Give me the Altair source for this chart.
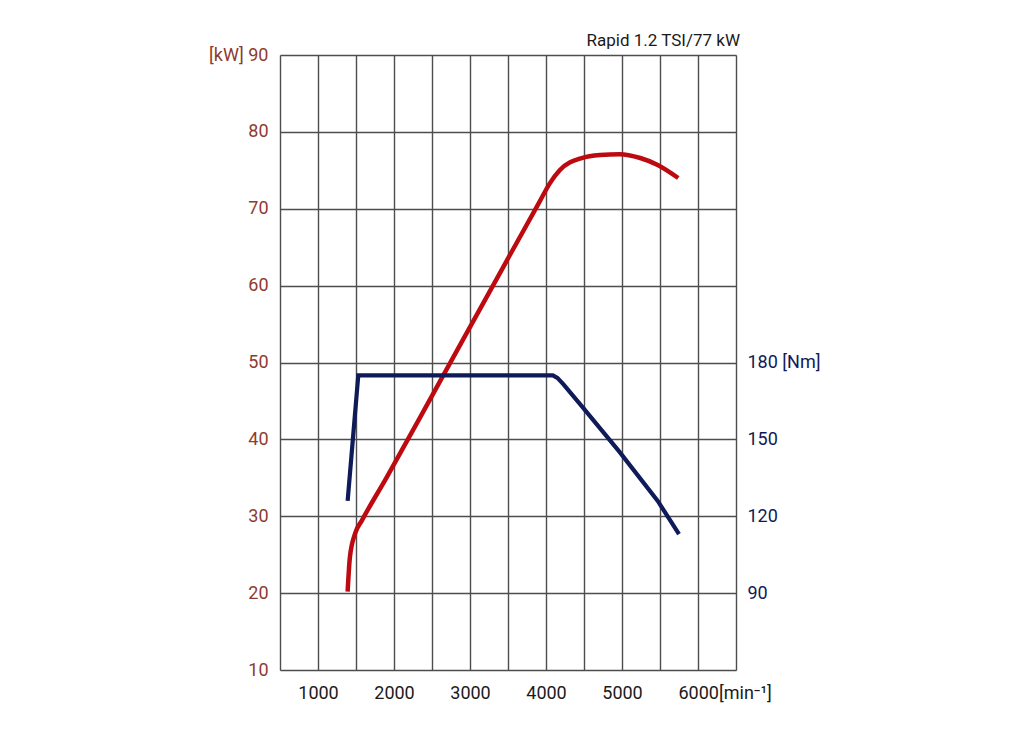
import altair as alt
import pandas as pd

# Power curve (rpm, kW)
power_rpm = [1390, 1420, 1490, 1580, 1900, 2340, 2870, 3470, 3920, 4050, 4180, 4470, 4710, 4970, 5240, 5470, 5740]
power_kw = [20.2, 24.7, 27.8, 29.5, 35.0, 42.8, 52.3, 63.0, 71.0, 73.3, 75.0, 76.6, 77.0, 77.1, 76.6, 75.7, 74.0]

# Torque curve (rpm, Nm)
torque_rpm = [1390, 1530, 4090, 4150, 4230, 4470, 4970, 5470, 5750]
torque_nm = [126, 175, 175, 174, 171.5, 163, 145, 126, 113]

x_grid = list(range(500, 7000, 500))
kw_ticks = list(range(10, 100, 10))
nm_ticks = [90, 120, 150, 180]

RED = "#bd0a10"
NAVY = "#0f1a58"
KW_LABEL = "#8e3b2f"
GRID = "#4d4d4d"
FONT = "Roboto"

power_df = pd.DataFrame({"rpm": power_rpm, "kw": power_kw})
torque_df = pd.DataFrame({"rpm": torque_rpm, "nm": torque_nm})

x_scale = alt.Scale(domain=[500, 6500], nice=False, zero=False)


def x_axis():
    return alt.Axis(
        values=x_grid,
        labelExpr="datum.value % 1000 == 0 ? (datum.value == 6000 ? '6000[min⁻¹]' : datum.label) : ''",
        labelAlign={"condition": {"test": "datum.value == 6000", "value": "left"}, "value": "center"},
        labelOffset={"condition": {"test": "datum.value == 6000", "value": -20}, "value": 0},
        format="d",
        grid=True,
        gridColor=GRID,
        gridWidth=1.4,
        gridOpacity=1,
        ticks=False,
        domain=False,
        labelPadding=14,
        labelFontSize=18,
        labelFont=FONT,
        labelColor="#1a1a1a",
        labelFlush=False,
        labelOverlap=False,
        title=None,
    )


power = alt.Chart(power_df).mark_line(
    color=RED, strokeWidth=4.5, interpolate="monotone", strokeCap="butt"
).encode(
    x=alt.X("rpm:Q", scale=x_scale, axis=x_axis()),
    y=alt.Y(
        "kw:Q",
        scale=alt.Scale(domain=[10, 90], nice=False, zero=False),
        axis=alt.Axis(
            values=kw_ticks,
            labelExpr="datum.value == 90 ? '[kW] 90' : datum.label",
            grid=True,
            gridColor=GRID,
            gridWidth=1.4,
            gridOpacity=1,
            ticks=False,
            domain=False,
            labelPadding=12,
            labelFontSize=18,
            labelFont=FONT,
            labelColor=KW_LABEL,
            labelFlush=False,
            labelOverlap=False,
            title=None,
        ),
    ),
)

torque = alt.Chart(torque_df).mark_line(
    color=NAVY, strokeWidth=4.2, strokeCap="butt", strokeJoin="miter"
).encode(
    x=alt.X("rpm:Q", scale=x_scale, axis=x_axis()),
    y=alt.Y(
        "nm:Q",
        scale=alt.Scale(domain=[60, 300], nice=False, zero=False),
        axis=alt.Axis(
            orient="right",
            values=nm_ticks,
            labelExpr="datum.value == 180 ? '180 [Nm]' : datum.label",
            grid=False,
            ticks=False,
            domain=False,
            labelPadding=11,
            labelFontSize=18,
            labelFont=FONT,
            labelColor=NAVY,
            labelFlush=False,
            labelOverlap=False,
            title=None,
        ),
    ),
)

chart = (
    alt.layer(power, torque)
    .resolve_scale(y="independent")
    .properties(
        width=456,
        height=615,
        padding={"left": 272, "top": 47, "right": 120, "bottom": 50},
        autosize=alt.AutoSizeParams(type="none"),
        title=alt.TitleParams(
            "Rapid 1.2 TSI/77 kW",
            anchor="end",
            frame="group",
            fontSize=17,
            fontWeight="normal",
            font=FONT,
            color="#1a1a1a",
            offset=-4,
            dx=4,
            limit=400,
        ),
    )
    .configure_view(strokeWidth=0)
    .configure(background="white")
)

chart.save("out.html", embed_options={"renderer": "svg", "actions": False})
